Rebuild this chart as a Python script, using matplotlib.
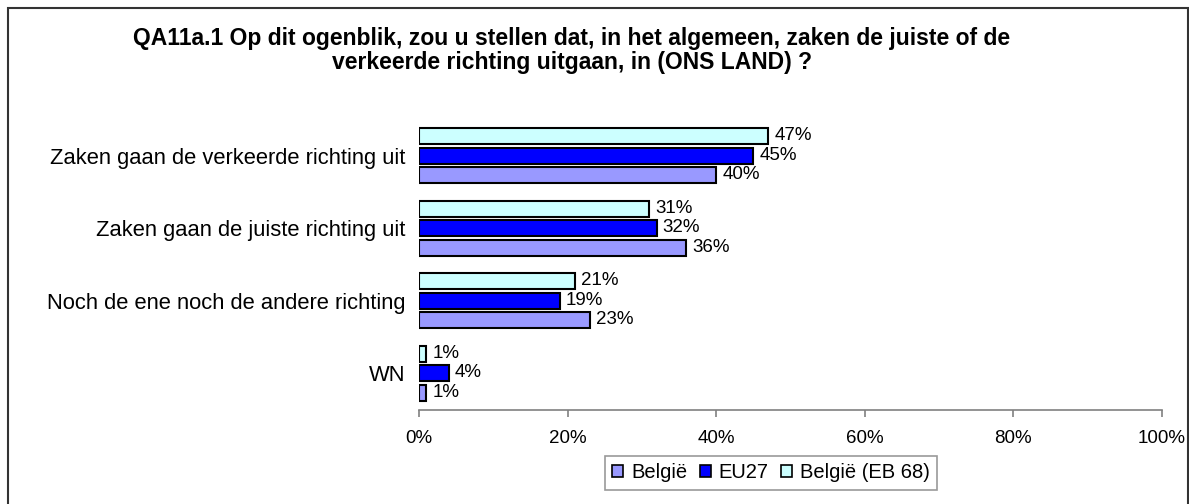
import matplotlib
matplotlib.use("Agg")
import matplotlib.pyplot as plt
import numpy as np
from matplotlib.patches import Rectangle, Patch

plt.rcParams["font.family"] = ["Liberation Sans", "DejaVu Sans"]

categories = [
    "Zaken gaan de verkeerde richting uit",
    "Zaken gaan de juiste richting uit",
    "Noch de ene noch de andere richting",
    "WN",
]
belgie = [40, 36, 23, 1]
eu27 = [45, 32, 19, 4]
belgie_eb68 = [47, 31, 21, 1]

series_names = ["België", "EU27", "België (EB 68)"]
colors = ["#9999FF", "#0000FF", "#CCFFFF"]
title_lines = ["QA11a.1 Op dit ogenblik, zou u stellen dat, in het algemeen, zaken de juiste of de",
               "verkeerde richting uitgaan, in (ONS LAND) ?"]

W, H = 1189, 504
fig = plt.figure(figsize=(W / 100, H / 100), dpi=100)
ax = fig.add_axes([419 / W, 1 - 409.5 / H, 743 / W, 290 / H])

y = np.arange(len(categories))
pitch = 0.27
bh = 0.22
# top to bottom inside a group: EB 68, EU27, België
offsets = [pitch, 0, -pitch]
for vals, col, off in zip([belgie, eu27, belgie_eb68], colors, offsets):
    ax.barh(y + off, vals, height=bh, color=col, edgecolor="black", linewidth=1.5)
    for yi, v in zip(y, vals):
        ax.text(v + 0.8, yi + off - 0.005, f"{v}%", va="center", ha="left", fontsize=13.5)

ax.set_ylim(len(categories) - 0.5, -0.5)
ax.set_xlim(0, 100)
ax.set_xticks(range(0, 101, 20))
ax.set_xticklabels([f"{t}%" for t in range(0, 101, 20)], fontsize=13.5)
ax.set_yticks(y)
ax.set_yticklabels(categories, fontsize=15.8)
ax.tick_params(axis="y", length=0, pad=10)
ax.tick_params(axis="x", length=5, color="#808080", width=1.2, pad=10)
for s in ["top", "right", "left"]:
    ax.spines[s].set_visible(False)
ax.spines["bottom"].set_color("#808080")
ax.spines["bottom"].set_linewidth(1.2)

for line, ty in zip(title_lines, [39, 63]):
    fig.text(572 / W, 1 - ty / H, line, ha="center", va="center", fontsize=16.5,
             fontweight="bold")

handles = [Patch(facecolor=c, edgecolor="black", linewidth=1.2) for c in colors]
leg = fig.legend(handles, series_names, loc="center", bbox_to_anchor=(771 / W, 1 - 473 / H),
                 ncol=3, frameon=True, fancybox=False, fontsize=14.5, handlelength=0.55,
                 handleheight=0.55, handletextpad=0.4, columnspacing=0.6, borderpad=0.35)
leg.get_frame().set_edgecolor("#808080")
leg.get_frame().set_linewidth(1.2)

fig.patches.append(Rectangle((7.5 / W, -0.05), 1180 / W, 1.05 - 7.5 / H,
                             transform=fig.transFigure, fill=False,
                             edgecolor="#333333", linewidth=1.5))

fig.savefig("out.png", dpi=100)
